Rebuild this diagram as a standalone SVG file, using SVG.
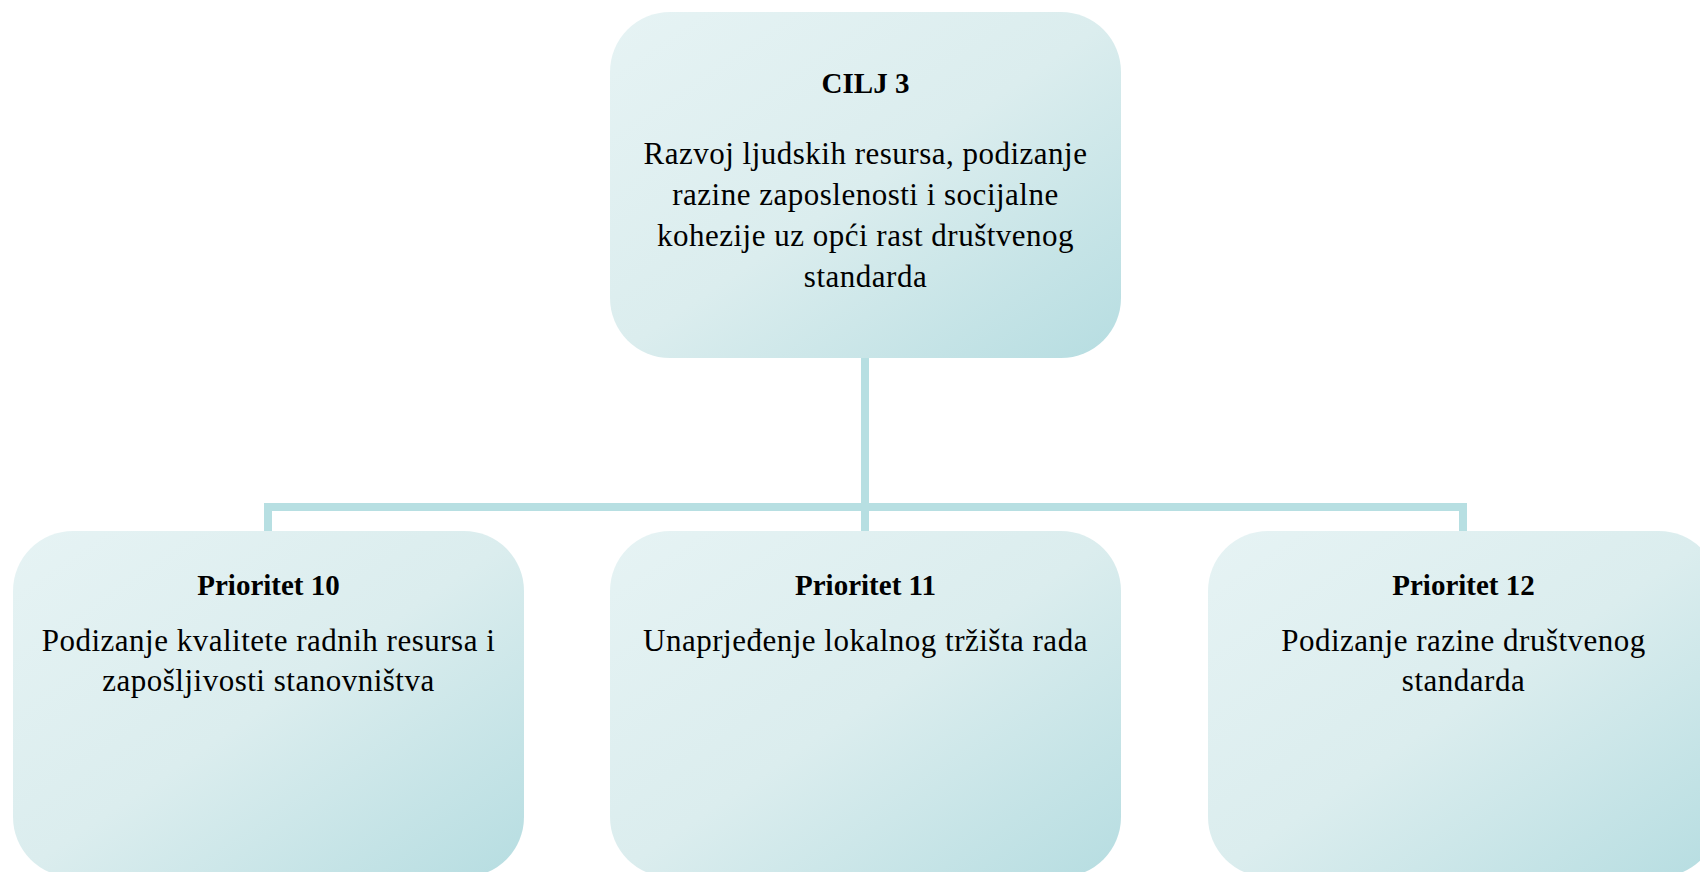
<svg xmlns="http://www.w3.org/2000/svg" width="1700" height="872" viewBox="0 0 1700 872">
<defs>
<linearGradient id="g" x1="0" y1="0" x2="1" y2="1">
<stop offset="0" stop-color="#e6f3f4"/>
<stop offset="0.5" stop-color="#dbedee"/>
<stop offset="1" stop-color="#b6dde1"/>
</linearGradient>
<style>
.box{fill:url(#g);}
.t{font-family:"Liberation Serif","Times New Roman",serif;font-size:31px;fill:#000;text-anchor:middle;letter-spacing:0.5px;}
.b{font-size:29px;font-weight:bold;letter-spacing:0;}
.conn{fill:none;stroke:#b7dfe2;stroke-width:8;}
</style>
</defs>
<rect width="1700" height="872" fill="#fff"/>
<g id="connectors">
<path class="conn" d="M865,358 V507 M268,531 V507 H1463 V531 M865,507 V531"/>
</g>
<g id="cilj3">
<rect class="box" x="610" y="12" width="511" height="346" rx="60" ry="60"/>
<text class="t b" x="865.5" y="93">CILJ 3</text>
<text class="t" x="865.5" y="164">Razvoj ljudskih resursa, podizanje</text>
<text class="t" x="865.5" y="205">razine zaposlenosti i socijalne</text>
<text class="t" x="865.5" y="246">kohezije uz opći rast društvenog</text>
<text class="t" x="865.5" y="287">standarda</text>
</g>
<g id="prioritet10">
<rect class="box" x="13" y="531" width="511" height="346" rx="60" ry="60"/>
<text class="t b" x="268.5" y="595">Prioritet 10</text>
<text class="t" x="268.5" y="651">Podizanje kvalitete radnih resursa i</text>
<text class="t" x="268.5" y="691">zapošljivosti stanovništva</text>
</g>
<g id="prioritet11">
<rect class="box" x="610" y="531" width="511" height="346" rx="60" ry="60"/>
<text class="t b" x="865.5" y="595">Prioritet 11</text>
<text class="t" x="865.5" y="651">Unaprjeđenje lokalnog tržišta rada</text>
</g>
<g id="prioritet12">
<rect class="box" x="1208" y="531" width="511" height="346" rx="60" ry="60"/>
<text class="t b" x="1463.5" y="595">Prioritet 12</text>
<text class="t" x="1463.5" y="651">Podizanje razine društvenog</text>
<text class="t" x="1463.5" y="691">standarda</text>
</g>
</svg>
